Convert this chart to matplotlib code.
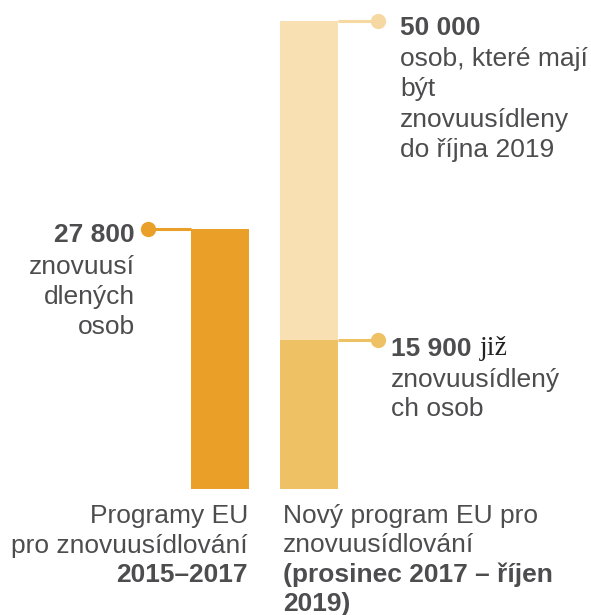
import matplotlib
matplotlib.use("Agg")
import matplotlib.pyplot as plt

# ---------------- data ----------------
past_program_total = 27800          # Programy EU 2015–2017
new_program_target = 50000          # Nový program – cíl
new_program_done = 15900            # Nový program – již znovuusídleno

value_labels = ["27 800", "50 000", "15 900"]
past_desc = ["znovuusí", "dlených", "osob"]
target_desc = ["osob, které mají", "být", "znovuusídleny", "do října 2019"]
done_suffix = "již"
done_desc = ["znovuusídlený", "ch osob"]

cat_regular = [["Programy EU", "pro znovuusídlování"],
               ["Nový program EU pro", "znovuusídlování"]]
cat_bold = [["2015–2017"],
            ["(prosinec 2017 – říjen", "2019)"]]

# ---------------- style ----------------
C_PAST = "#E99F28"
C_DONE = "#EEC264"
C_TARGET = "#F9E0B3"
C_TARGET_DOT = "#F6D9A2"
C_TEXT = "#4D4D4F"
FS = 19
SANS = ["Liberation Sans", "DejaVu Sans"]
SERIF = ["Liberation Serif", "DejaVu Serif"]

W, H = 591, 615
fig = plt.figure(figsize=(W / 100, H / 100), dpi=100)
ax = fig.add_axes([0, (H - 489) / H, 1, 468 / H])
ax.axis("off")
unit = 89.0
ax.set_xlim(-220 / unit, (W - 220) / unit)
ax.set_ylim(0, new_program_target)

bw = 58 / unit
xpos = [0, 1]
ax.bar(xpos[0], past_program_total, width=bw, color=C_PAST, linewidth=0)
ax.bar(xpos[1], new_program_done, width=bw, color=C_DONE, linewidth=0)
ax.bar(xpos[1], new_program_target - new_program_done, bottom=new_program_done,
       width=bw, color=C_TARGET, linewidth=0, clip_on=False)

# connectors + dots
dot_left_x = xpos[0] - 72 / unit
dot_right_x = xpos[1] + 69 / unit
lw = 2.2
ms = 11
ax.plot([dot_left_x, xpos[0] - bw / 2], [past_program_total] * 2, color=C_PAST, lw=lw,
        solid_capstyle="butt", zorder=3)
ax.plot([dot_left_x], [past_program_total], "o", color=C_PAST, ms=ms, mec="none", zorder=4)
ax.plot([xpos[1] + bw / 2, dot_right_x], [new_program_target] * 2, color=C_TARGET_DOT, lw=lw,
        solid_capstyle="butt", zorder=3, clip_on=False)
ax.plot([dot_right_x], [new_program_target], "o", color=C_TARGET_DOT, ms=ms, mec="none",
        zorder=4, clip_on=False)
ax.plot([xpos[1] + bw / 2, dot_right_x], [new_program_done] * 2, color=C_DONE, lw=lw,
        solid_capstyle="butt", zorder=3)
ax.plot([dot_right_x], [new_program_done], "o", color=C_DONE, ms=ms, mec="none", zorder=4)


def put(x, y, txt, dx, dy, ha, weight="normal", family=SANS, color=C_TEXT):
    return ax.annotate(txt, xy=(x, y), xytext=(dx, -dy), textcoords="offset pixels",
                       ha=ha, va="baseline", fontsize=FS, fontweight=weight,
                       family=family, color=color, annotation_clip=False)


LH = 30.3
# left annotation
put(dot_left_x, past_program_total, value_labels[0], -13, 13, "right", "bold")
for i, t in enumerate(past_desc):
    put(dot_left_x, past_program_total, t, -13, 45 + i * LH, "right")

# right top annotation
put(dot_right_x, new_program_target, value_labels[1], 22, 14, "left", "bold")
for i, t in enumerate(target_desc):
    put(dot_right_x, new_program_target, t, 22, 45 + i * LH, "left")

# right lower annotation
t15 = put(dot_right_x, new_program_done, value_labels[2], 13, 16, "left", "bold")
ax.annotate(done_suffix, xy=(1, 0), xycoords=t15, xytext=(8, 0),
            textcoords="offset pixels", ha="left", va="bottom", fontsize=FS + 1,
            family=SERIF, color="#222222", annotation_clip=False)
for i, t in enumerate(done_desc):
    put(dot_right_x, new_program_done, t, 13, 47 + i * 29, "left")

# category labels under the bars
LB = 29.5
for ci, (x_anchor, ha, dx) in enumerate([(xpos[0] + bw / 2, "right", -1),
                                         (xpos[1] - bw / 2, "left", 3)]):
    k = 0
    for t in cat_regular[ci]:
        put(x_anchor, 0, t, dx, 34 + k * LB, ha)
        k += 1
    for t in cat_bold[ci]:
        put(x_anchor, 0, t, dx, 34 + k * LB - (1 if k == 3 else 0), ha, "bold")
        k += 1

fig.savefig("out.png", dpi=100)
